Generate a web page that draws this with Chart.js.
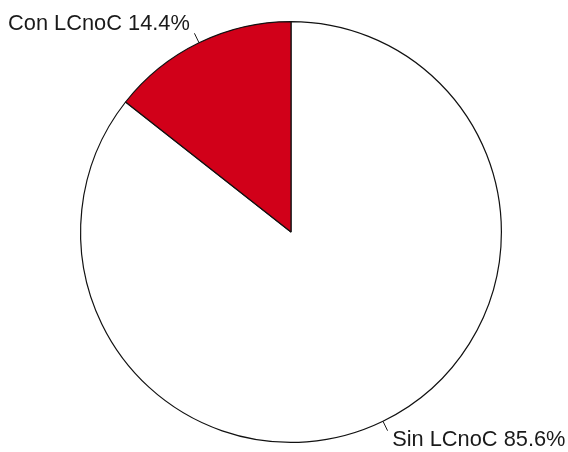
<!DOCTYPE html>
<html>
<head>
<meta charset="utf-8">
<script src="https://cdn.jsdelivr.net/npm/chart.js@4/dist/chart.umd.min.js"></script>
<style>
  html, body { margin: 0; padding: 0; background: #fff; }
  #wrap { width: 568px; height: 452px; }
</style>
</head>
<body>
<div id="wrap"><canvas id="pieChart" width="568" height="452"></canvas></div>
<script>
const sliceLabels = ["Sin LCnoC", "Con LCnoC"];
const sliceValues = [85.6, 14.4];
const sliceColors = ["#FFFFFF", "#D10019"];

// R-style pie labels: short tick out of the rim, text just beyond it
const pieLabels = {
  id: "pieLabels",
  afterDatasetsDraw(chart) {
    const ctx = chart.ctx;
    const meta = chart.getDatasetMeta(0);
    ctx.save();
    ctx.font = "21.8px 'Liberation Sans', Arial, sans-serif";
    ctx.fillStyle = "#1a1a1a";
    ctx.strokeStyle = "#1a1a1a";
    ctx.lineWidth = 1;
    meta.data.forEach((arc, i) => {
      const { x, y, outerRadius, startAngle, endAngle } = arc.getProps(
        ["x", "y", "outerRadius", "startAngle", "endAngle"], true
      );
      const mid = (startAngle + endAngle) / 2;
      const cos = Math.cos(mid);
      const sin = Math.sin(mid);
      ctx.beginPath();
      ctx.moveTo(x + outerRadius * cos, y + outerRadius * sin);
      ctx.lineTo(x + outerRadius * 1.05 * cos, y + outerRadius * 1.05 * sin);
      ctx.stroke();
      ctx.textAlign = cos < 0 ? "right" : "left";
      ctx.textBaseline = "middle";
      ctx.fillText(
        `${sliceLabels[i]} ${sliceValues[i].toFixed(1)}%`,
        x + outerRadius * 1.1 * cos,
        y + outerRadius * 1.1 * sin
      );
    });
    ctx.restore();
  },
};

new Chart(document.getElementById("pieChart"), {
  type: "pie",
  data: {
    labels: sliceLabels,
    datasets: [
      {
        data: sliceValues,
        backgroundColor: sliceColors,
        borderColor: "#111",
        borderWidth: 1.2,
      },
    ],
  },
  options: {
    responsive: false,
    animation: false,
    layout: { padding: { left: 80, right: 66, top: 21, bottom: 9 } },
    plugins: {
      legend: { display: false },
      tooltip: { enabled: false },
    },
  },
  plugins: [pieLabels],
});
</script>
</body>
</html>
